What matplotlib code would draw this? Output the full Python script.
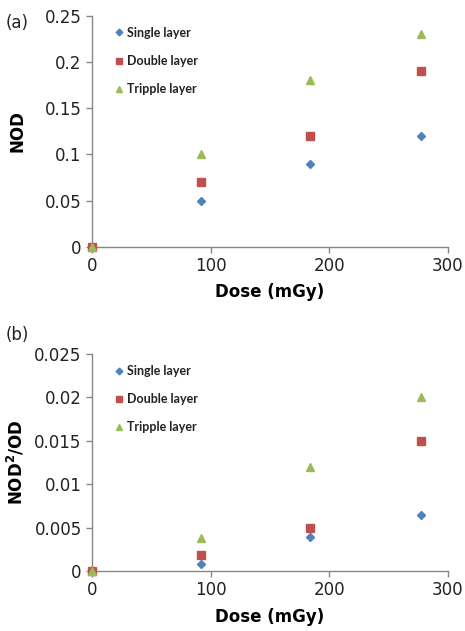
import matplotlib
matplotlib.use("Agg")
import matplotlib.pyplot as plt

# Dose values (mGy)
dose = [0, 91.6, 183.6, 277.2]

# (a) NOD
nod_single = [0, 0.05, 0.09, 0.12]
nod_double = [0, 0.07, 0.12, 0.19]
nod_triple = [0, 0.10, 0.18, 0.23]

# (b) NOD^2/OD
ratio_single = [0, 0.0008, 0.0039, 0.0065]
ratio_double = [0, 0.0018, 0.0050, 0.0150]
ratio_triple = [0, 0.0038, 0.0120, 0.0200]

labels = ['Single layer', 'Double layer', 'Tripple layer']
colors = ['#4F81BD', '#C0504D', '#9BBB59']
markers = ['D', 's', '^']
msizes = [4.0, 5.5, 5.8]

x_ticks = [0, 100, 200, 300]
y_ticks_a = [0, 0.05, 0.1, 0.15, 0.2, 0.25]
y_ticks_b = [0, 0.005, 0.01, 0.015, 0.02, 0.025]

GRAY = '#868686'


def style_axes(ax, yticks, ylabel):
    """ Excel-like axes """
    for side in ['top', 'right']:
        ax.spines[side].set_visible(False)
    for side in ['left', 'bottom']:
        ax.spines[side].set_color(GRAY)
        ax.spines[side].set_linewidth(1.0)
    ax.set_xlim(0, 300)
    ax.set_ylim(yticks[0], yticks[-1])
    ax.set_xticks(x_ticks)
    ax.set_xticklabels([str(t) for t in x_ticks])
    ax.set_yticks(yticks)
    ax.set_yticklabels(['{:g}'.format(t) for t in yticks])
    ax.tick_params(axis='both', colors=GRAY, labelcolor='#222222',
                   labelsize=12, length=4, width=1.0)
    ax.set_xlabel('Dose (mGy)', fontsize=12, fontweight='bold', labelpad=6)
    ax.set_ylabel(ylabel, fontsize=12, fontweight='bold')
    # right edge of the rotated label sits ~27 px from the figure edge
    ax.yaxis.set_label_coords(-0.183, 0.5)


def scatter_series(ax, series):
    for vals, lab, c, m, ms in zip(series, labels, colors, markers, msizes):
        ax.plot(dose, vals, linestyle='none', marker=m, markersize=ms,
                color=c, label=lab, clip_on=False, zorder=3)
    leg = ax.legend(loc='upper left', bbox_to_anchor=(0.035, 0.99), frameon=False,
                    handletextpad=0.2, labelspacing=1.3, markerscale=0.85,
                    handlelength=0.9, borderaxespad=0.3,
                    prop={'weight': 'bold', 'size': 9, 'family': ['Lato', 'DejaVu Sans']})
    for t in leg.get_texts():
        t.set_color('#222222')


fig = plt.figure(figsize=(4.65, 6.31), dpi=100)

ax1 = fig.add_axes([0.198, 0.609, 0.765, 0.366])
scatter_series(ax1, [nod_single, nod_double, nod_triple])
style_axes(ax1, y_ticks_a, 'NOD')
fig.text(0.012, 0.963, '(a)', fontsize=12, color='#222222', va='center')

ax2 = fig.add_axes([0.198, 0.095, 0.765, 0.344])
scatter_series(ax2, [ratio_single, ratio_double, ratio_triple])
style_axes(ax2, y_ticks_b, r'NOD$^\mathbf{2}$/OD')
fig.text(0.012, 0.469, '(b)', fontsize=12, color='#222222', va='center')

fig.savefig('out.png', dpi=100)
